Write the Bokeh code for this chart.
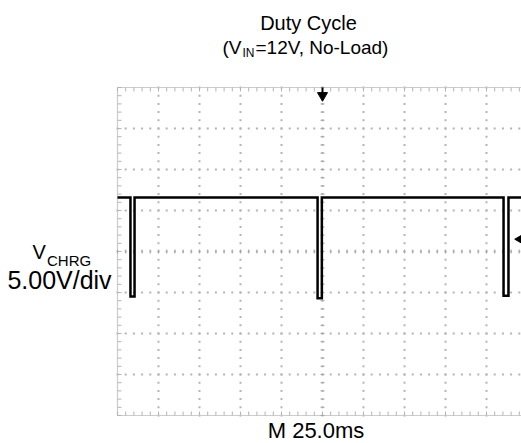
import numpy as np
from bokeh.plotting import figure
from bokeh.models import Range1d
from bokeh.embed import file_html
from bokeh.resources import INLINE
from bokeh.core.properties import value

# ---- scope settings ----
TIME_PER_DIV = 25.0     # ms / div  ("M 25.0ms")
VOLT_PER_DIV = 5.0      # V / div   ("5.00V/div")
H_DIVS = 10
V_DIVS = 8
GND_DIV = 2.9           # ground level, divisions above the bottom graticule line
TRIG_TIME = 0.0         # ms (trigger at screen centre)
TRIG_LEVEL = 7.0        # V

# ---- V_CHRG trace (time in ms, voltage in V) ----
trace_t = [-125.0, -117.1, -117.1, -114.6, -114.6, -3.0, -3.0, -0.4, -0.4,
           110.4, 110.4, 113.4, 113.4, 122.0]
trace_v = [12.1, 12.1, 0.0, 0.0, 12.1, 12.1, -0.2, -0.2, 12.1,
           12.1, 0.1, 0.1, 12.1, 12.1]

# ---- texts ----
title_1 = "Duty Cycle"
title_2a, title_2sub, title_2b = "(V", "IN", "=12V, No-Load)"
ch_name, ch_sub = "V", "CHRG"
ch_scale = "5.00V/div"
time_label = "M 25.0ms"

# ---- layout ----
W, H = 521, 443
PX_PER_DIV = 41
FRAME_LEFT = 117   # canvas px to left graticule edge
FRAME_TOP = 87     # canvas px to top graticule edge
FONT = value("Liberation Sans")

t_left = -H_DIVS / 2 * TIME_PER_DIV
t_right = t_left + H_DIVS * TIME_PER_DIV
v_bottom = -GND_DIV * VOLT_PER_DIV
v_top = v_bottom + V_DIVS * VOLT_PER_DIV
ms_per_px = TIME_PER_DIV / PX_PER_DIV
v_per_px = VOLT_PER_DIV / PX_PER_DIV
x_start = t_left - FRAME_LEFT * ms_per_px
x_end = x_start + W * ms_per_px
y_end = v_top + FRAME_TOP * v_per_px
y_start = y_end - H * v_per_px


def X(px):  # canvas pixel -> ms
    return x_start + px * ms_per_px


def Y(py):  # canvas pixel -> V
    return y_end - py * v_per_px


p = figure(width=W, height=H, x_range=Range1d(x_start, x_end),
           y_range=Range1d(y_start, y_end), output_backend="svg",
           toolbar_location=None, min_border=0, x_axis_type=None,
           y_axis_type=None, outline_line_color=None,
           background_fill_color="white", border_fill_color="white")

grid_col = "#b4b4b4"
minor_t = t_left + np.arange(0, H_DIVS * 5 + 1) * TIME_PER_DIV / 5
minor_v = v_bottom + np.arange(0, V_DIVS * 5 + 1) * VOLT_PER_DIV / 5
major_t = [t_left + i * TIME_PER_DIV for i in range(1, H_DIVS)]
major_v = [v_bottom + j * VOLT_PER_DIV for j in range(1, V_DIVS)]

# dotted graticule
dx, dy = [], []
for yv in major_v:
    dx += list(minor_t)
    dy += [yv] * len(minor_t)
for xv in major_t:
    dx += [xv] * len(minor_v)
    dy += list(minor_v)
p.scatter(dx, dy, marker="square", size=2, fill_color=grid_col,
          line_color=None)

# graticule border
p.quad(left=[t_left], right=[t_right], bottom=[v_bottom], top=[v_top],
       fill_color=None, line_color="#cccccc", line_width=1.2)

# border ticks
tick = 4
p.segment(x0=[t_left] * len(minor_v), y0=minor_v,
          x1=[t_left + tick * ms_per_px] * len(minor_v), y1=minor_v,
          line_color=grid_col, line_width=1)
p.segment(x0=minor_t, y0=[v_top] * len(minor_t), x1=minor_t,
          y1=[v_top - tick * v_per_px] * len(minor_t),
          line_color=grid_col, line_width=1)
p.segment(x0=minor_t, y0=[v_bottom] * len(minor_t), x1=minor_t,
          y1=[v_bottom + tick * v_per_px] * len(minor_t),
          line_color=grid_col, line_width=1)
# centre cross ticks
t_mid = (t_left + t_right) / 2
v_mid = (v_bottom + v_top) / 2
p.segment(x0=[t_mid - 2 * ms_per_px] * len(minor_v), y0=minor_v,
          x1=[t_mid + 2 * ms_per_px] * len(minor_v), y1=minor_v,
          line_color="#a8a8a8", line_width=1)
p.segment(x0=minor_t, y0=[v_mid - 2 * v_per_px] * len(minor_t),
          x1=minor_t, y1=[v_mid + 2 * v_per_px] * len(minor_t),
          line_color="#a8a8a8", line_width=1)

# trace
p.line(trace_t, trace_v, line_color="black", line_width=2.5,
       line_join="miter")

# trigger markers
p.segment(x0=[TRIG_TIME], y0=[v_top], x1=[TRIG_TIME],
          y1=[v_top - 6 * v_per_px], line_color="black", line_width=2)
p.scatter(x=[TRIG_TIME], y=[v_top - 8 * v_per_px], marker="inverted_triangle",
          size=10, fill_color="black", line_color="black")
p.scatter(x=[X(520)], y=[TRIG_LEVEL], marker="triangle", angle=np.pi / 2,
          size=10, fill_color="black", line_color="black")

# texts (y given as the wanted baseline in canvas pixels; the glyph is
# anchored at its middle so the position is independent of baseline handling)
def txt(x, y_base, s, size, align="left"):
    mid = y_base - 0.36 * size   # approx. middle of cap height
    p.text(x=[x], y=[Y(mid)], text=[s], text_font=FONT,
           text_font_size=f"{size}px", text_align=align,
           text_baseline="middle", text_color="black")

txt(X(308), 29.5, title_1, 20, "center")
txt(X(222), 53.5, title_2a, 19)
txt(X(242), 56.5, title_2sub, 12)
txt(X(255), 53.5, title_2b, 19)

txt(X(32), 259, ch_name, 20)
txt(X(46.5), 265, ch_sub, 15)
txt(X(59), 288, ch_scale, 25, "center")

txt(X(315.5), 438, time_label, 22, "center")

open("out.html", "w").write(file_html(p, INLINE))
